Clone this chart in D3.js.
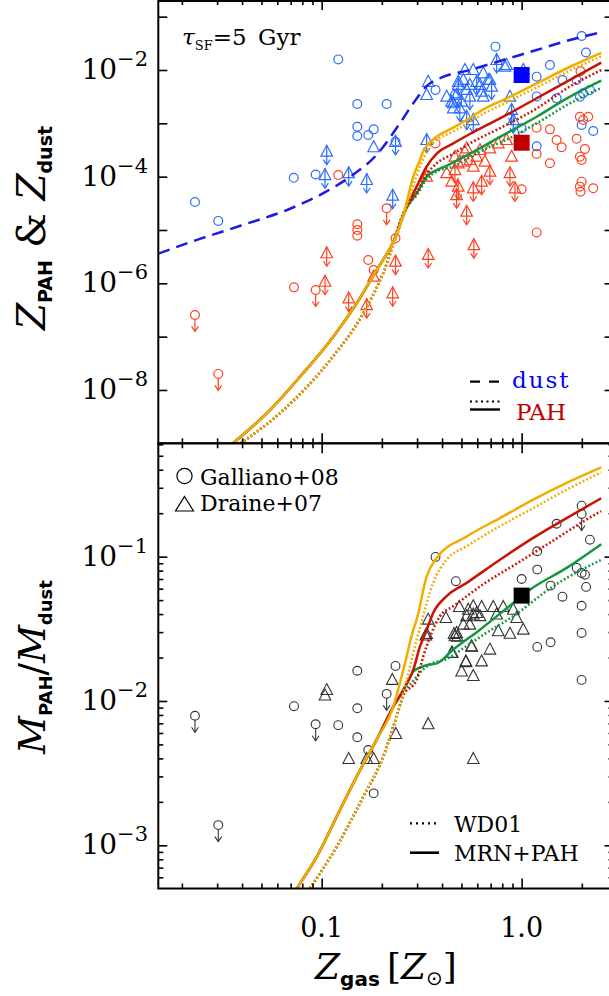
<!DOCTYPE html>
<html><head><meta charset="utf-8">
<script src="https://cdn.jsdelivr.net/npm/d3@7/dist/d3.min.js"></script>
<style>html,body{margin:0;padding:0;background:#fff;}svg{display:block;}</style>
</head><body>
<svg id="chart" width="609" height="996"></svg>
<script>
// ================= DATA =================
const xTickLabels = [[0.1, "0.1"], [1, "1.0"]];
const topYLabelExps = [-2, -4, -6, -8];
const botYLabelExps = [-1, -2, -3];

// ---- top panel: observations (Z_gas [Zsun], Z_dust or Z_PAH) ----
const dustGalliano = [[0.121,0.0158],[0.1507,0.0023],[0.1507,8.65e-4],[0.1507,5.79e-4],[0.171,6.04e-4],[0.182,7.7e-4],
 [0.0725,9.5e-5],[0.0933,1.1e-4],[0.02325,3.35e-5],[0.0304,1.48e-5],[0.2113,0.0023],[0.234,4.5e-4],
 [0.371,0.00422],[0.74,0.0274],[1.385,0.0124],[1.189,0.0075],[1.6,0.0065],[1.995,0.0434],[2.097,0.0213],
 [1.884,0.0065],[2.195,0.0042],[2.03,0.00365],[1.956,0.00316],[1.496,0.00294],[1.189,0.0032],
 [1.995,9.3e-4],[2.28,7.2e-4],[1.189,3.7e-4],[1.0,8.1e-4],[0.464,0.0034],[0.476,0.00255]];
const dustDraine = [[0.182,3.56e-4],[0.341,0.006],[0.335,0.0034],[0.4217,0.00316],[0.473,0.0034],[0.511,0.0065],
 [0.573,0.01],[0.643,0.00867],[0.841,0.0124],[1.019,0.01],[0.455,0.00238],[0.482,0.00524],[0.531,0.00422],
 [0.619,0.00524],[0.694,0.0065],[0.643,0.00316],[0.874,0.00316],[0.5205,0.01],[0.825,0.01155],[0.681,0.0065],
 [0.631,0.00392],[0.4467,0.00255],[0.501,0.00255],[0.551,0.00524],[0.455,0.0019]];
const dustDraineLimits = [[0.106,2.94e-4],[0.1039,1.07e-4],[0.1365,1.16e-4],[0.168,8.66e-5],[0.2265,4.4e-5],
 [0.335,4.87e-4],[0.234,4.5e-4],[0.482,0.006],[0.75,0.0154],[0.491,0.0019],[0.596,0.006],[0.708,0.00487],
 [0.551,0.00316],[0.531,0.00133],[0.573,0.00115],[0.891,0.00178],[0.908,0.00115]];
const pahGalliano = [[0.121,1.07e-4],[0.1507,1.28e-5],[0.1507,1.0e-5],[0.1507,7.8e-6],[0.171,2.74e-6],[0.182,1.78e-6],
 [0.0727,8.4e-7],[0.234,7.0e-6],[0.371,4.2e-4],[1.189,8.3e-4],[1.385,7.7e-4],[1.496,4.87e-4],[1.585,3.56e-4],
 [1.385,1.78e-4],[1.189,2.66e-4],[1.956,0.00133],[2.153,0.00133],[2.03,0.00115],[1.884,5.15e-4],[2.073,3.3e-4],
 [1.956,2.37e-4],[1.995,2.05e-4],[1.995,8.05e-5],[1.956,6.5e-5],[1.97,5.2e-5],[2.28,6.05e-5],[1.0,5.8e-5],
 [1.189,9.0e-6],[1.97,0.0095]];
const pahGallianoLimits = [[0.0933,7.5e-7],[0.02325,2.55e-7],[0.0304,2.0e-8],[0.2113,2.55e-5]];
const pahDraine = [[0.182,1.33e-6],[0.4217,1.16e-4],[0.482,1.78e-4],[0.531,3.4e-4],[0.551,2.05e-4],[0.573,1.54e-4],
 [0.596,2.37e-4],[0.655,1.91e-4],[0.4467,8.05e-5],[0.335,1.0e-4],[0.891,2.37e-4],[0.764,4.22e-4],[0.841,4.87e-4],
 [0.694,3.4e-4],[0.619,3.16e-4],[0.511,1.91e-4],[0.464,2.37e-4],[0.52,2.94e-4]];
const pahDraineLimits = [[0.106,3.66e-6],[0.1039,1.07e-6],[0.1365,5.2e-7],[0.168,3.9e-7],[0.234,2.55e-6],
 [0.2265,6.5e-7],[0.341,3.4e-6],[0.577,5.2e-6],[0.531,2.2e-5],[0.464,1.33e-4],[0.694,1.24e-4],[0.631,8.05e-5],
 [0.573,6.05e-5],[0.482,6.5e-5],[0.473,4.5e-5],[0.874,1.16e-4],[0.926,6.05e-5]];
const milkyWayDust = [[1.0, 8.05e-3]];
const milkyWayPAH = [[1.0, 4.33e-4]];

// ---- bottom panel: observations (Z_gas, M_PAH/M_dust) ----
const ratioGalliano = [[0.0727,9.2e-3],[0.121,6.8e-3],[0.1507,0.0162],[0.1507,8.9e-3],[0.1507,5.6e-3],[0.171,4.57e-3],
 [0.182,2.29e-3],[0.234,0.0175],[0.371,0.0995],[0.469,0.0676],[1.0,0.07],[1.197,0.109],[1.197,0.0813],[1.496,0.169],
 [1.396,0.063],[1.6,0.0528],[1.197,0.0237],[1.396,0.0255],[1.995,0.2255],[2.195,0.131],[1.884,0.0836],[1.995,0.0771],
 [2.073,0.075],[2.1,0.0617],[1.995,0.0457],[1.995,0.0296],[1.995,0.014]];
const ratioGallianoLimits = [[0.02325,7.9e-3],[0.0304,1.38e-3],[0.0933,6.9e-3],[0.2113,0.0112],[1.995,0.1976]];
const ratioDraine = [[0.106,0.0119],[0.1039,0.0109],[0.2255,0.014],[0.235,5.9e-3],[0.1365,3.96e-3],[0.168,3.96e-3],
 [0.182,3.96e-3],[0.341,6.9e-3],[0.573,3.96e-3],[0.45,0.0216],[0.501,0.016],[0.573,0.0149],[0.5265,0.0186],
 [0.562,0.0238],[0.335,0.0291],[0.459,0.0291],[0.477,0.0279],[0.341,0.0366],[0.332,0.0284],[0.418,0.0376],
 [0.488,0.0448],[0.541,0.0429],[0.573,0.0453],[0.631,0.0448],[0.721,0.0448],[0.809,0.0448],[0.908,0.0429],
 [0.944,0.0376],[0.531,0.0387],[0.573,0.0397],[0.596,0.0407],[0.511,0.0338],[0.551,0.0338],[0.473,0.0296],
 [0.464,0.0281],[0.4467,0.0215],[0.562,0.0239],[0.694,0.0227],[0.631,0.0188],[0.5265,0.0188],[0.764,0.0304],
 [0.874,0.0292],[1.019,0.0312],[0.619,0.0387],[0.75,0.0397]];
const milkyWayRatio = [[1.0, 0.0537]];

// ---- model curves, top panel ----
const dustModel = [[0.01524,3.6e-6],[0.0246,6.8e-6],[0.0392,1.2e-5],[0.0694,2.5e-5],[0.1019,4.9e-5],[0.139,1.0e-4],
 [0.188,2.55e-4],[0.246,1.0e-3],[0.287,2.37e-3],[0.335,5.0e-3],[0.405,7.4e-3],[0.551,1.0e-2],[0.809,1.54e-2],
 [1.189,2.37e-2],[1.744,3.65e-2],[2.5,5.1e-2]];
const pahYellowMRN = [[0.036,1e-9],[0.0551,4.2e-9],[0.0779,1.77e-8],[0.1143,1.0e-7],[0.1496,4.2e-7],[0.1884,1.78e-6],
 [0.2325,7.0e-6],[0.256,1.9e-5],[0.287,1.0e-4],[0.31,2.05e-4],[0.322,3.0e-4],[0.348,4.4e-4],[0.376,5.6e-4],
 [0.455,8.3e-4],[0.551,1.26e-3],[0.643,1.82e-3],[0.809,2.74e-3],[1.189,5.6e-3],[1.744,1.15e-2],[2.5,2.1e-2]];
const pahYellowWD = [[0.0394,1e-9],[0.0643,4.2e-9],[0.110,3.6e-8],[0.1615,2.75e-7],[0.203,1.55e-6],[0.266,2.75e-5],
 [0.31,1.55e-4],[0.355,4.0e-4],[0.455,7.0e-4],[0.551,1.05e-3],[0.643,1.5e-3],[0.809,2.3e-3],[1.189,4.7e-3],
 [1.744,9.8e-3],[2.5,1.8e-2]];
const pahRedMRN = [[0.036,1e-9],[0.0551,4.2e-9],[0.0779,1.77e-8],[0.1143,1.0e-7],[0.1496,4.2e-7],[0.1884,1.78e-6],
 [0.2325,7.0e-6],[0.26,2.2e-5],[0.2985,6.5e-5],[0.335,1.55e-4],[0.376,2.7e-4],[0.455,4.2e-4],[0.551,6.3e-4],
 [0.809,1.33e-3],[1.189,2.95e-3],[1.744,6.5e-3],[2.5,1.37e-2]];
const pahRedWD = [[0.0394,1e-9],[0.0643,4.2e-9],[0.110,3.6e-8],[0.1615,2.75e-7],[0.203,1.55e-6],[0.266,2.75e-5],
 [0.2985,5.0e-5],[0.335,1.1e-4],[0.376,1.78e-4],[0.455,2.7e-4],[0.551,4.2e-4],[0.809,8.7e-4],[1.189,1.9e-3],
 [1.744,4.9e-3],[2.5,1.0e-2]];
const pahGreenMRN = [[0.036,1e-9],[0.0551,4.2e-9],[0.0779,1.77e-8],[0.1143,1.0e-7],[0.1496,4.2e-7],[0.1884,1.78e-6],
 [0.2325,7.0e-6],[0.26,2.2e-5],[0.2985,4.9e-5],[0.335,1.0e-4],[0.376,1.33e-4],[0.421,1.6e-4],[0.551,2.7e-4],
 [0.809,6.0e-4],[1.189,1.33e-3],[1.744,3.16e-3],[2.5,6.3e-3]];
const pahGreenWD = [[0.0394,1e-9],[0.0643,4.2e-9],[0.110,3.6e-8],[0.1615,2.75e-7],[0.203,1.55e-6],[0.266,2.75e-5],
 [0.2985,4.5e-5],[0.335,9.0e-5],[0.376,1.25e-4],[0.455,1.55e-4],[0.551,2.3e-4],[0.668,3.4e-4],[0.809,4.6e-4],
 [1.189,1.0e-3],[1.744,2.37e-3],[2.5,4.6e-3]];

// ---- model curves, bottom panel ----
const ratioYellowMRN = [[0.075,5.03e-4],[0.0944,8.3e-4],[0.1189,1.58e-3],[0.1496,2.99e-3],[0.1884,5.4e-3],[0.228,9.1e-3],
 [0.256,0.0164],[0.287,0.031],[0.2985,0.0366],[0.335,0.073],[0.376,0.098],[0.531,0.138],[0.779,0.185],[1.143,0.248],
 [1.679,0.324],[2.5,0.415]];
const ratioYellowWD = [[0.0874,5.03e-4],[0.1189,9.8e-4],[0.1615,2.17e-3],[0.203,4.1e-3],[0.237,7.8e-3],[0.266,0.014],
 [0.2985,0.0265],[0.31,0.0322],[0.361,0.0658],[0.4217,0.0953],[0.531,0.118],[0.779,0.1626],[1.143,0.217],
 [1.679,0.291],[2.5,0.383]];
const ratioRedMRN = [[0.075,5.03e-4],[0.0944,8.3e-4],[0.1189,1.58e-3],[0.1496,2.99e-3],[0.1884,5.4e-3],[0.228,9.1e-3],
 [0.256,0.0119],[0.287,0.0164],[0.31,0.0238],[0.335,0.031],[0.361,0.0407],[0.4217,0.0532],[0.531,0.0658],
 [0.779,0.0953],[1.143,0.135],[1.679,0.185],[2.5,0.254]];
const ratioRedWD = [[0.0874,5.03e-4],[0.1189,9.8e-4],[0.1615,2.17e-3],[0.203,4.1e-3],[0.237,7.8e-3],[0.255,0.0108],
 [0.2985,0.014],[0.322,0.0203],[0.354,0.0294],[0.39,0.0386],[0.455,0.0453],[0.643,0.0644],[0.944,0.0895],
 [1.385,0.125],[2.03,0.175],[2.5,0.207]];
const ratioGreenMRN = [[0.075,5.03e-4],[0.0944,8.3e-4],[0.1189,1.58e-3],[0.1496,2.99e-3],[0.1884,5.4e-3],[0.228,9.1e-3],
 [0.256,0.0119],[0.277,0.0147],[0.287,0.016],[0.335,0.0177],[0.376,0.0182],[0.455,0.0227],[0.619,0.0312],
 [0.908,0.0478],[1.10,0.059],[1.679,0.0836],[2.5,0.122]];
const ratioGreenWD = [[0.0874,5.03e-4],[0.1189,9.8e-4],[0.1615,2.17e-3],[0.203,4.1e-3],[0.237,7.8e-3],[0.255,0.0108],
 [0.287,0.0138],[0.348,0.018],[0.42,0.0195],[0.53,0.024],[0.65,0.029],[0.908,0.0387],[1.44,0.0624],[2.5,0.095]];

// ================= LAYOUT / STYLE =================
const L = 158.3, R = 613.5, M = 443.3, B = 888.5;
const C = {yellow:"#f0ad00", red:"#c81400", green:"#12973f", dash:"#1b1be3",
           blueObs:"#2a6cff", redObs:"#ff4020", black:"#333333"};
const serif = "DejaVu Serif", sans = "DejaVu Sans";

const svg = d3.select("#chart");
const x = d3.scaleLog().domain([0.01524, 2.88]).range([L, R]);
const yT = d3.scaleLog().domain([1e-9, 0.2053]).range([M, 0]);
const yB = d3.scaleLog().domain([5.02e-4, 0.61]).range([B, M]);

const defs = svg.append("defs");
defs.append("clipPath").attr("id","clipT").append("rect").attr("x",L).attr("y",0).attr("width",R-L).attr("height",M);
defs.append("clipPath").attr("id","clipB").append("rect").attr("x",L).attr("y",M).attr("width",R-L).attr("height",B-M);

// ---------- markers ----------
function arrowDown(g, cx, y0, y1, color, sw){
  g.append("line").attr("x1",cx).attr("x2",cx).attr("y1",y0).attr("y2",y1).attr("stroke",color).attr("stroke-width",sw);
  g.append("path").attr("d",`M${cx-3.4},${y1-5}L${cx},${y1}L${cx+3.4},${y1-5}`).attr("fill","none")
    .attr("stroke",color).attr("stroke-width",sw);
}
function circles(g, data, ys, color, sw, limit){
  data.forEach(d=>{
    const cx = x(d[0]), cy = ys(d[1]);
    g.append("circle").attr("cx",cx).attr("cy",cy).attr("r",4.4).attr("fill","none").attr("stroke",color).attr("stroke-width",sw);
    if(limit) arrowDown(g, cx, cy+4.4, cy+16.5, color, sw);
  });
}
function triangles(g, data, ys, color, sw, limit){
  data.forEach(d=>{
    const cx = x(d[0]), cy = ys(d[1]);
    g.append("path").attr("d",`M${cx},${cy-6.5}L${cx+5.8},${cy+4.5}L${cx-5.8},${cy+4.5}Z`)
      .attr("fill","none").attr("stroke",color).attr("stroke-width",sw).attr("stroke-linejoin","miter");
    if(limit) arrowDown(g, cx, cy-6.5, cy+13, color, sw);
  });
}
function squares(g, data, ys, color){
  g.selectAll(null).data(data).enter().append("rect")
    .attr("x",d=>x(d[0])-8).attr("y",d=>ys(d[1])-8).attr("width",16).attr("height",16).attr("fill",color);
}
function curve(g, data, ys, color, style){
  const line = d3.line().x(d=>x(d[0])).y(d=>ys(d[1])).curve(d3.curveMonotoneX);
  const p = g.append("path").attr("d",line(data)).attr("fill","none").attr("stroke",color);
  if(style==="solid") p.attr("stroke-width",2.5);
  if(style==="dot") p.attr("stroke-width",2.6).attr("stroke-dasharray","1.8,2.2");
  if(style==="dash") p.attr("stroke-width",2.5).attr("stroke-dasharray","12,7");
}

// ---------- top panel ----------
const gT = svg.append("g").attr("clip-path","url(#clipT)");
circles(gT, dustGalliano, yT, C.blueObs, 1.2, false);
triangles(gT, dustDraine, yT, C.blueObs, 1.2, false);
triangles(gT, dustDraineLimits, yT, C.blueObs, 1.2, true);
circles(gT, pahGalliano, yT, C.redObs, 1.2, false);
circles(gT, pahGallianoLimits, yT, C.redObs, 1.2, true);
triangles(gT, pahDraine, yT, C.redObs, 1.2, false);
triangles(gT, pahDraineLimits, yT, C.redObs, 1.2, true);
curve(gT, pahGreenWD, yT, C.green, "dot");
curve(gT, pahGreenMRN, yT, C.green, "solid");
curve(gT, pahRedWD, yT, C.red, "dot");
curve(gT, pahRedMRN, yT, C.red, "solid");
curve(gT, pahYellowWD, yT, C.yellow, "dot");
curve(gT, pahYellowMRN, yT, C.yellow, "solid");
curve(gT, dustModel, yT, C.dash, "dash");
squares(gT, milkyWayDust, yT, "#0000ff");
squares(gT, milkyWayPAH, yT, "#c00000");

// ---------- bottom panel ----------
const gB = svg.append("g").attr("clip-path","url(#clipB)");
circles(gB, ratioGalliano, yB, C.black, 1.1, false);
circles(gB, ratioGallianoLimits, yB, C.black, 1.1, true);
triangles(gB, ratioDraine, yB, C.black, 1.1, false);
curve(gB, ratioGreenWD, yB, C.green, "dot");
curve(gB, ratioGreenMRN, yB, C.green, "solid");
curve(gB, ratioRedWD, yB, C.red, "dot");
curve(gB, ratioRedMRN, yB, C.red, "solid");
curve(gB, ratioYellowWD, yB, C.yellow, "dot");
curve(gB, ratioYellowMRN, yB, C.yellow, "solid");
squares(gB, milkyWayRatio, yB, "#000");

// ---------- axes (ticks only, inward) ----------
const xAll = x.ticks().filter(v => v > x.domain()[0] && v < x.domain()[1]);
const isDecade = v => Math.abs(Math.log10(v) - Math.round(Math.log10(v))) < 1e-9;
const xMajor = xAll.filter(isDecade), xMinor = xAll.filter(v => !isDecade(v));
function styleAxis(g){ g.select(".domain").remove(); g.selectAll("line").attr("stroke","#000").attr("stroke-width",1.6); g.selectAll("text").remove(); }
[[0,"bottom"],[M,"top"],[M,"bottom"],[B,"top"]].forEach(([yy,dir])=>{
  const mk = dir==="bottom" ? d3.axisBottom : d3.axisTop;
  svg.append("g").attr("transform",`translate(0,${yy})`).call(mk(x).tickValues(xMinor).tickSize(5).tickFormat("")).call(styleAxis);
  svg.append("g").attr("transform",`translate(0,${yy})`).call(mk(x).tickValues(xMajor).tickSize(10).tickFormat("")).call(styleAxis);
});
const yTMajor = yT.ticks().filter(isDecade).filter(v => v > 1e-9);
[[L,"right"],[R,"left"]].forEach(([xx,dir])=>{
  const mk = dir==="right" ? d3.axisRight : d3.axisLeft;
  svg.append("g").attr("transform",`translate(${xx},0)`).call(mk(yT).tickValues(yTMajor).tickSize(9).tickFormat("")).call(styleAxis);
  const bAll = yB.ticks().filter(v => v > yB.domain()[0] && v < yB.domain()[1]);
  svg.append("g").attr("transform",`translate(${xx},0)`).call(mk(yB).tickValues(bAll.filter(v=>!isDecade(v))).tickSize(5).tickFormat("")).call(styleAxis);
  svg.append("g").attr("transform",`translate(${xx},0)`).call(mk(yB).tickValues(bAll.filter(isDecade)).tickSize(9).tickFormat("")).call(styleAxis);
});
// frames
svg.append("rect").attr("x",L).attr("y",1).attr("width",R-L).attr("height",M-1).attr("fill","none").attr("stroke","#000").attr("stroke-width",2);
svg.append("rect").attr("x",L).attr("y",M).attr("width",R-L).attr("height",B-M).attr("fill","none").attr("stroke","#000").attr("stroke-width",2);

// ---------- tick labels ----------
function powLabel(yPix, exp){
  const t = svg.append("text").attr("x",148).attr("y",yPix+9).attr("text-anchor","end")
    .attr("font-family",serif).attr("font-size",28).attr("fill","#000");
  t.append("tspan").text("10");
  t.append("tspan").attr("dy",-13).attr("font-size",21).text("\u2212"+Math.abs(exp));
}
topYLabelExps.forEach(e => powLabel(yT(Math.pow(10,e)), e));
botYLabelExps.forEach(e => powLabel(yB(Math.pow(10,e)), e));
xTickLabels.forEach(([v,lab]) => {
  svg.append("text").attr("x",x(v)).attr("y",937).attr("text-anchor","middle")
    .attr("font-family",serif).attr("font-size",27).text(lab);
});

// ---------- axis titles ----------
const xt = svg.append("text").attr("x",386).attr("y",979).attr("text-anchor","middle").attr("font-family",serif).attr("font-size",36);
xt.append("tspan").attr("font-style","italic").text("Z");
xt.append("tspan").attr("font-family",sans).attr("font-weight","bold").attr("font-size",20).attr("dy",7).text("gas");
xt.append("tspan").attr("dy",-7).text("\u2009[");
xt.append("tspan").attr("font-style","italic").text("Z");
xt.append("tspan").attr("font-family",sans).attr("font-size",20).attr("dy",6).text("\u2299");
xt.append("tspan").attr("dy",-6).text("]");

const yt1 = svg.append("text").attr("transform","translate(45,228) rotate(-90)").attr("text-anchor","middle")
  .attr("font-family",serif).attr("font-size",39);
yt1.append("tspan").attr("font-style","italic").text("Z");
yt1.append("tspan").attr("font-family",sans).attr("font-weight","bold").attr("font-size",19).attr("dy",7).text("PAH");
yt1.append("tspan").attr("dy",-7).text(" & ");
yt1.append("tspan").attr("font-style","italic").text("Z");
yt1.append("tspan").attr("font-family",sans).attr("font-weight","bold").attr("font-size",19).attr("dy",7).text("dust");

const yt2 = svg.append("text").attr("transform","translate(45,667) rotate(-90)").attr("text-anchor","middle")
  .attr("font-family",serif).attr("font-size",37);
yt2.append("tspan").attr("font-style","italic").text("M");
yt2.append("tspan").attr("font-family",sans).attr("font-weight","bold").attr("font-size",18).attr("dy",7).text("PAH");
yt2.append("tspan").attr("dy",-7).text("/");
yt2.append("tspan").attr("font-style","italic").text("M");
yt2.append("tspan").attr("font-family",sans).attr("font-weight","bold").attr("font-size",18).attr("dy",7).text("dust");

// ---------- annotations & legends ----------
const tau = svg.append("text").attr("x",182).attr("y",45).attr("font-family",serif).attr("font-size",23);
tau.append("tspan").attr("font-style","italic").text("\u03C4");
tau.append("tspan").attr("font-size",13).attr("dy",5).text("SF");
tau.append("tspan").attr("dy",-5).text("=5\u2002Gyr");

svg.append("line").attr("x1",470).attr("x2",500).attr("y1",381.7).attr("y2",381.7).attr("stroke","#000").attr("stroke-width",2.2).attr("stroke-dasharray","10,9");
svg.append("line").attr("x1",470).attr("x2",500).attr("y1",401.5).attr("y2",401.5).attr("stroke","#000").attr("stroke-width",2.2).attr("stroke-dasharray","2,3.5");
svg.append("line").attr("x1",470).attr("x2",500).attr("y1",409.5).attr("y2",409.5).attr("stroke","#000").attr("stroke-width",2.4);
svg.append("text").attr("x",512).attr("y",388).attr("font-family",serif).attr("font-size",23).attr("fill","#0000ff").attr("letter-spacing",2).text("dust");
svg.append("text").attr("x",516).attr("y",420).attr("font-family",serif).attr("font-size",23).attr("fill","#c00000").text("PAH");

svg.append("circle").attr("cx",184.5).attr("cy",476).attr("r",7.6).attr("fill","none").attr("stroke","#000").attr("stroke-width",1.2);
svg.append("text").attr("x",200).attr("y",485).attr("font-family",serif).attr("font-size",22).text("Galliano+08");
svg.append("path").attr("d","M184.5,496.5L193.5,511L175.5,511Z").attr("fill","none").attr("stroke","#000").attr("stroke-width",1.2);
svg.append("text").attr("x",200).attr("y",511).attr("font-family",serif).attr("font-size",22).text("Draine+07");

svg.append("line").attr("x1",410).attr("x2",437).attr("y1",823.3).attr("y2",823.3).attr("stroke","#000").attr("stroke-width",2.2).attr("stroke-dasharray","2,4");
svg.append("line").attr("x1",410).attr("x2",439).attr("y1",852.7).attr("y2",852.7).attr("stroke","#000").attr("stroke-width",2.6);
svg.append("text").attr("x",454).attr("y",832).attr("font-family",serif).attr("font-size",22).text("WD01");
svg.append("text").attr("x",454).attr("y",861).attr("font-family",serif).attr("font-size",22).text("MRN+PAH");
</script>
</body></html>
